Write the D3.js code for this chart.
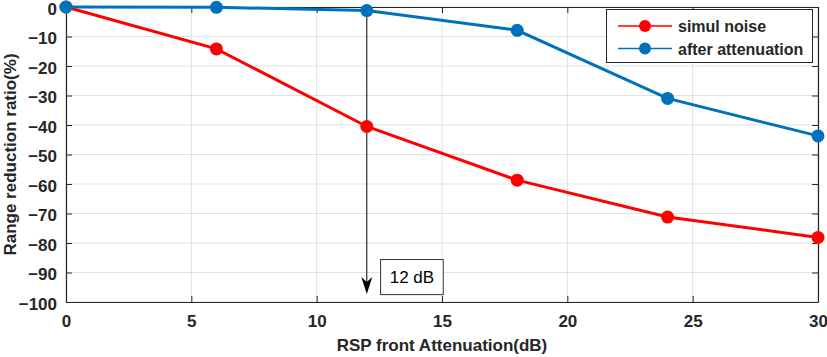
<!DOCTYPE html>
<html><head><meta charset="utf-8">
<script src="https://cdn.jsdelivr.net/npm/d3@7"></script>
<style>body{margin:0;background:#fff}svg{display:block}text{font-family:"Liberation Sans",Arial,sans-serif}</style>
</head><body><svg id="c" width="827" height="357"></svg>
<script>
const attenuation = [0, 6, 12, 18, 24, 30];
const simulNoise = [0, -14.2, -40.5, -58.7, -71.2, -78.1];
const afterAttenuation = [0, -0.1, -1.2, -7.9, -31.0, -43.7];
const seriesNames = ["simul noise", "after attenuation"];
const xTicks = [0, 5, 10, 15, 20, 25, 30];
const yTicks = [0, -10, -20, -30, -40, -50, -60, -70, -80, -90, -100];
const xLabel = "RSP front Attenuation(dB)";
const yLabel = "Range reduction ratio(%)";
const markerX = 12;
const markerLabel = "12 dB";

const W = 827, H = 357;
const m = {l: 66, r: 9, t: 7, b: 55};
const svg = d3.select("#c");
const x = d3.scaleLinear().domain([0, 30]).range([m.l, W - m.r]);
const y = d3.scaleLinear().domain([-100, 0]).range([H - m.b, m.t]);
const axc = "#262626";

// grid
const g = svg.append("g");
g.selectAll(".gx").data(xTicks).join("line")
  .attr("x1", d => x(d)).attr("x2", d => x(d)).attr("y1", y(0)).attr("y2", y(-100))
  .attr("stroke", "#e0e0e0").attr("stroke-width", 1);
g.selectAll(".gy").data(yTicks).join("line")
  .attr("y1", d => y(d)).attr("y2", d => y(d)).attr("x1", x(0)).attr("x2", x(30))
  .attr("stroke", "#e0e0e0").attr("stroke-width", 1);

// axes
const tickFont = g => g.selectAll("text").attr("font-size", 17).attr("font-weight", "bold").attr("fill", axc)
  .style("font-family", '"Liberation Sans",Arial,sans-serif');
const ax = (sel) => { sel.select(".domain").attr("stroke", axc).attr("stroke-width", 1.2); sel.selectAll(".tick line").attr("stroke", axc); };
svg.append("g").attr("transform", `translate(0,${y(-100)})`)
  .call(d3.axisBottom(x).tickValues(xTicks).tickSize(-6).tickSizeOuter(0).tickPadding(13))
  .call(ax).call(tickFont);
svg.append("g").attr("transform", `translate(0,${y(0)})`)
  .call(d3.axisTop(x).tickValues(xTicks).tickSize(-6).tickSizeOuter(0).tickFormat(""))
  .call(ax);
svg.append("g").attr("transform", `translate(${x(0)},0)`)
  .call(d3.axisLeft(y).tickValues(yTicks).tickSize(-6).tickSizeOuter(0).tickPadding(9))
  .call(ax).call(tickFont)
  .call(s => s.selectAll("text").attr("dy", "0.42em"));
svg.append("g").attr("transform", `translate(${x(30)},0)`)
  .call(d3.axisRight(y).tickValues(yTicks).tickSize(-6).tickSizeOuter(0).tickFormat(""))
  .call(ax);

// axis labels
svg.append("text").attr("x", x(15)).attr("y", 351).attr("text-anchor", "middle")
  .attr("font-size", 17).attr("font-weight", "bold").attr("fill", axc).text(xLabel);
svg.append("text").attr("transform", `translate(16,${y(-50)}) rotate(-90)`).attr("text-anchor", "middle")
  .attr("font-size", 17).attr("font-weight", "bold").attr("fill", axc).text(yLabel);

// annotation arrow
const tipY = y(-97.3);
svg.append("line").attr("x1", x(markerX)).attr("x2", x(markerX)).attr("y1", y(0)).attr("y2", tipY - 6)
  .attr("stroke", "#000").attr("stroke-width", 1);
const ax0 = x(markerX);
svg.append("path").attr("d", `M${ax0},${tipY} L${ax0-5.5},${tipY-17} L${ax0},${tipY-12} L${ax0+5.5},${tipY-17} Z`).attr("fill", "#000");
svg.append("rect").attr("x", x(12.55)).attr("y", y(-85.6)).attr("width", x(15.05) - x(12.55)).attr("height", y(-97.5) - y(-85.6))
  .attr("fill", "#fff").attr("stroke", "#333").attr("stroke-width", 1);
svg.append("text").attr("x", (x(12.55) + x(15.05)) / 2).attr("y", y(-91.6) + 6).attr("text-anchor", "middle")
  .attr("font-size", 17).attr("fill", "#000").text(markerLabel);

// series
const series = [
  {name: seriesNames[0], vals: simulNoise, color: "#ff0000"},
  {name: seriesNames[1], vals: afterAttenuation, color: "#0072bd"}
];
const line = d3.line().x((d, i) => x(attenuation[i])).y(d => y(d));
series.forEach(s => {
  svg.append("path").datum(s.vals).attr("d", line).attr("fill", "none").attr("stroke", s.color).attr("stroke-width", 3);
  svg.selectAll(null).data(s.vals).join("circle").attr("cx", (d, i) => x(attenuation[i])).attr("cy", d => y(d))
    .attr("r", 6.5).attr("fill", s.color);
});

// legend
const lg = svg.append("g");
lg.append("rect").attr("x", 606.5).attr("y", 9.5).attr("width", 206).attr("height", 53)
  .attr("fill", "#fff").attr("stroke", axc).attr("stroke-width", 1);
series.forEach((s, i) => {
  const yy = 26 + i * 22.5;
  lg.append("line").attr("x1", 618).attr("x2", 672).attr("y1", yy).attr("y2", yy).attr("stroke", s.color).attr("stroke-width", 1.5);
  lg.append("circle").attr("cx", 645).attr("cy", yy).attr("r", 6).attr("fill", s.color);
  lg.append("text").attr("x", 678).attr("y", yy + 6).attr("font-size", 16).attr("font-weight", "bold").attr("fill", axc).text(s.name);
});
</script></body></html>
